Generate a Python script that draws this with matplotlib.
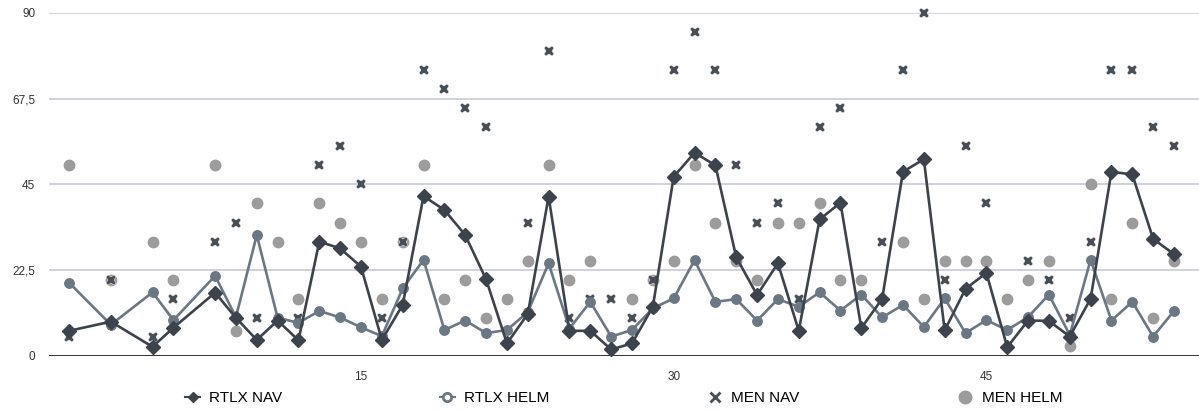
import numpy as np
import matplotlib
matplotlib.use("Agg")
import matplotlib.pyplot as plt
from matplotlib.lines import Line2D
from matplotlib.ticker import FuncFormatter

plt.rcParams["font.family"] = ["Liberation Sans", "DejaVu Sans"]

nan = np.nan

# ---------------- Data (categories 1..54) ----------------
categories = np.arange(1, 55)

rtlx_nav = [6.6, nan, 9.0, nan, 2.4, 7.4, nan, 16.6, 10.0, 4.2,
            9.3, 4.1, 30.0, 28.2, 23.4, 4.2, 13.4, 41.9, 38.3, 31.7,
            20.1, 3.3, 11.0, 41.8, 6.6, 6.6, 1.7, 3.3, 12.9, 47.0,
            53.3, 50.0, 25.9, 16.0, 24.3, 6.6, 35.8, 40.2, 7.3, 15.0,
            48.3, 51.6, 6.7, 17.6, 21.8, 2.3, 9.3, 9.2, 5.1, 15.0,
            48.3, 47.6, 30.7, 26.7]

rtlx_helm = [19.2, nan, 8.2, nan, 16.7, 9.4, nan, 21.0, 10.2, 31.7,
             10.0, 8.7, 11.8, 10.1, 7.5, 5.2, 17.7, 25.2, 6.8, 9.3,
             6.0, 6.8, 11.5, 24.3, 7.2, 14.2, 5.1, 6.8, 12.5, 15.1,
             25.1, 14.2, 14.9, 9.3, 14.9, 12.9, 16.7, 11.9, 16.1, 10.1,
             13.4, 7.6, 15.1, 6.0, 9.4, 6.8, 10.2, 16.1, 5.5, 25.2,
             9.3, 14.2, 5.1, 11.8]

men_nav = [5, nan, 20, nan, 5, 15, nan, 30, 35, 10,
           nan, 10, 50, 55, 45, 10, 30, 75, 70, 65,
           60, nan, 35, 80, 10, 15, 15, 10, 20, 75,
           85, 75, 50, 35, 40, 15, 60, 65, nan, 30,
           75, 90, 20, 55, 40, nan, 25, 20, 10, 30,
           75, 75, 60, 55]

men_helm = [50, nan, 20, nan, 30, 20, nan, 50, 6.6, 40,
            30, 15, 40, 35, 30, 15, 30, 50, 15, 20,
            10, 15, 25, 50, 20, 25, nan, 15, 20, 25,
            50, 35, 25, 20, 35, 35, 40, 20, 20, nan,
            30, 15, 25, 25, 25, 15, 20, 25, 2.5, 45,
            15, 35, 10, 25]

y_ticks = [0, 22.5, 45, 67.5, 90]
x_ticks = [15, 30, 45]

# ---------------- Style ----------------
c_rnav = "#3c434d"
c_rhelm = "#6b7783"
c_mnav = "#484e56"
c_mhelm = "#9c9c9c"

fig = plt.figure(figsize=(11.99, 4.12), dpi=100)
ax = fig.add_axes([0.041, 0.136, 0.959, 0.833])

rnav = np.array(rtlx_nav, dtype=float)
rhelm = np.array(rtlx_helm, dtype=float)
mnav = np.array(men_nav, dtype=float)
mhelm = np.array(men_helm, dtype=float)

for y in y_ticks[1:]:
    ax.axhline(y, color="#c9c9d6", lw=1.2, zorder=0)
ax.axhline(0, color="#222222", lw=1.3, zorder=1)

ax.plot(categories, mhelm, ls="none", marker="o", ms=7.5, color=c_mhelm,
        zorder=2, clip_on=False)
ax.plot(categories, mnav, ls="none", marker="X", ms=7.5, color=c_mnav,
        mec="white", mew=0.3, zorder=3, clip_on=False)

m = ~np.isnan(rhelm)
ax.plot(categories[m], rhelm[m], color=c_rhelm, lw=1.9, marker="o", ms=6.8,
        zorder=4, clip_on=False)
m = ~np.isnan(rnav)
ax.plot(categories[m], rnav[m], color=c_rnav, lw=1.9, marker="D", ms=7.5,
        zorder=5, clip_on=False)

ax.set_xlim(0.04, 55.2)
ax.set_ylim(0, 90)
ax.set_xticks(x_ticks)
ax.set_yticks(y_ticks)
ax.yaxis.set_major_formatter(FuncFormatter(lambda v, p: f"{v:g}".replace(".", ",")))
ax.tick_params(axis="both", length=0, labelsize=8.5, labelcolor="#333333")
ax.tick_params(axis="y", pad=10)
ax.tick_params(axis="x", pad=11)
for s in ax.spines.values():
    s.set_visible(False)

handles = [
    Line2D([], [], color=c_rnav, lw=1.5, marker="D", ms=5),
    Line2D([], [], color=c_rhelm, lw=1.5, marker="o", ms=6, mfc="white", mew=2),
    Line2D([], [], color=c_mnav, ls="none", marker="x", ms=7, mew=2),
    Line2D([], [], color=c_mhelm, ls="none", marker="o", ms=9),
]
labels = ["RTLX NAV", "RTLX HELM", "MEN NAV", "MEN HELM"]
fig.legend(handles, labels, loc="center", bbox_to_anchor=(0.52, 0.034), ncol=4,
           frameon=False, fontsize=11, handlelength=1.0, handletextpad=0.6,
           columnspacing=10.3)

fig.savefig("out.png", dpi=100)
